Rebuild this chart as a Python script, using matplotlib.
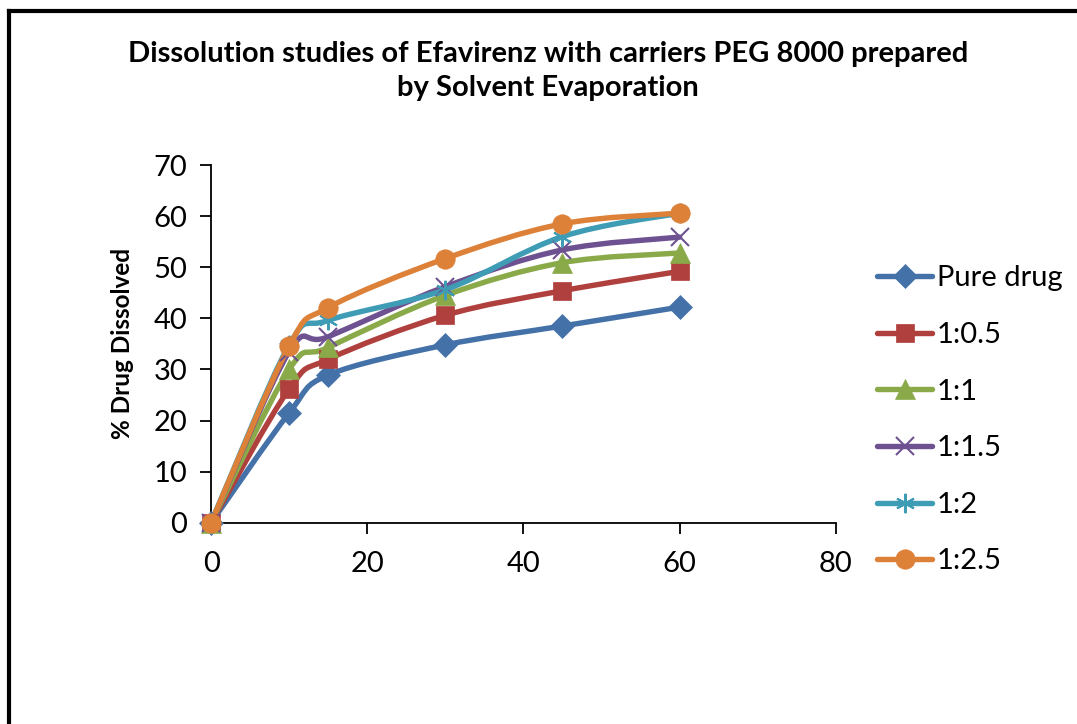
import matplotlib.pyplot as plt
import numpy as np
from matplotlib.path import Path
from matplotlib.patches import PathPatch
from matplotlib.lines import Line2D

plt.rcParams['font.family'] = ['Lato', 'DejaVu Sans']

# sampling times (min) and % drug dissolved for each ratio
time = [0, 10, 15, 30, 45, 60]
pure_drug = [0, 21.5, 28.9, 34.8, 38.5, 42.2]
ratio_0_5 = [0, 26.2, 32.0, 40.6, 45.4, 49.2]
ratio_1 = [0, 30.0, 34.3, 44.5, 50.9, 52.8]
ratio_1_5 = [0, 33.5, 36.4, 46.2, 53.4, 55.9]
ratio_2 = [0, 34.8, 39.6, 45.6, 56.0, 60.6]
ratio_2_5 = [0, 34.6, 42.1, 51.7, 58.5, 60.6]

series = [
    ('Pure drug', pure_drug, '#4472a8', 'D', 12),
    ('1:0.5', ratio_0_5, '#b0403d', 's', 13),
    ('1:1', ratio_1, '#8aaa4a', '^', 14),
    ('1:1.5', ratio_1_5, '#6e5190', 'x', 13),
    ('1:2', ratio_2, '#3f9cb5', (6, 2, 0), 14),
    ('1:2.5', ratio_2_5, '#dd8139', 'o', 14),
]


def smooth_path(x, y):
    # bezier curve through the points, like a spreadsheet "smoothed line"
    pts = np.column_stack([x, y]).astype(float)
    n = len(pts)
    verts = [pts[0]]
    codes = [Path.MOVETO]
    for i in range(n - 1):
        p0 = pts[i - 1] if i > 0 else pts[i]
        p1 = pts[i]
        p2 = pts[i + 1]
        p3 = pts[i + 2] if i + 2 < n else pts[i + 1]
        c1 = p1 + (p2 - p0) / 6
        c2 = p2 - (p3 - p1) / 6
        verts += [c1, c2, p2]
        codes += [Path.CURVE4] * 3
    return Path(verts, codes)


fig = plt.figure(figsize=(10.77, 7.24), dpi=100)
ax = fig.add_axes([0.196, 0.278, 0.58, 0.494])

handles = []
for name, vals, col, mk, ms in series:
    ax.add_patch(PathPatch(smooth_path(time, vals), facecolor='none',
                           edgecolor=col, lw=3.9, capstyle='round',
                           zorder=2, clip_on=False))
    mew = 1.5 if mk in ('x', (6, 2, 0)) else 0.5
    ax.plot(time, vals, linestyle='none', marker=mk, ms=ms, color=col,
            mec=col, mew=mew, zorder=3, clip_on=False)
    handles.append(Line2D([], [], color=col, lw=3.9, marker=mk, ms=ms,
                          mec=col, mew=mew, solid_capstyle='round'))

ax.set_xlim(0, 80)
ax.set_ylim(0, 70)
ax.set_xticks([0, 20, 40, 60, 80])
ax.set_yticks(range(0, 71, 10))
ax.spines['top'].set_visible(False)
ax.spines['right'].set_visible(False)
for s in ('left', 'bottom'):
    ax.spines[s].set_linewidth(1.3)
ax.tick_params(labelsize=21, width=1.3, length=8, direction='out', pad=9)
ax.tick_params(axis='x', pad=12)
ax.set_ylabel('% Drug Dissolved', fontsize=17.5, fontweight='bold', labelpad=14)

fig.text(0.509, 0.902, 'Dissolution studies of Efavirenz with carriers PEG 8000 prepared\nby Solvent Evaporation',
         ha='center', va='center', fontsize=21, fontweight='bold', linespacing=1.35)

fig.legend(handles, [s[0] for s in series], loc='center left',
           bbox_to_anchor=(0.79, 0.42), frameon=False, fontsize=21,
           handlelength=1.9, handletextpad=0.15, labelspacing=1.05)

# outer frame around the chart area
fig.add_artist(Line2D([0.008, 0.008], [0, 0.985], color='black', lw=3,
                      transform=fig.transFigure))
fig.add_artist(Line2D([0.008, 1.0], [0.985, 0.985], color='black', lw=3,
                      transform=fig.transFigure))

fig.savefig('out.png', dpi=100)
